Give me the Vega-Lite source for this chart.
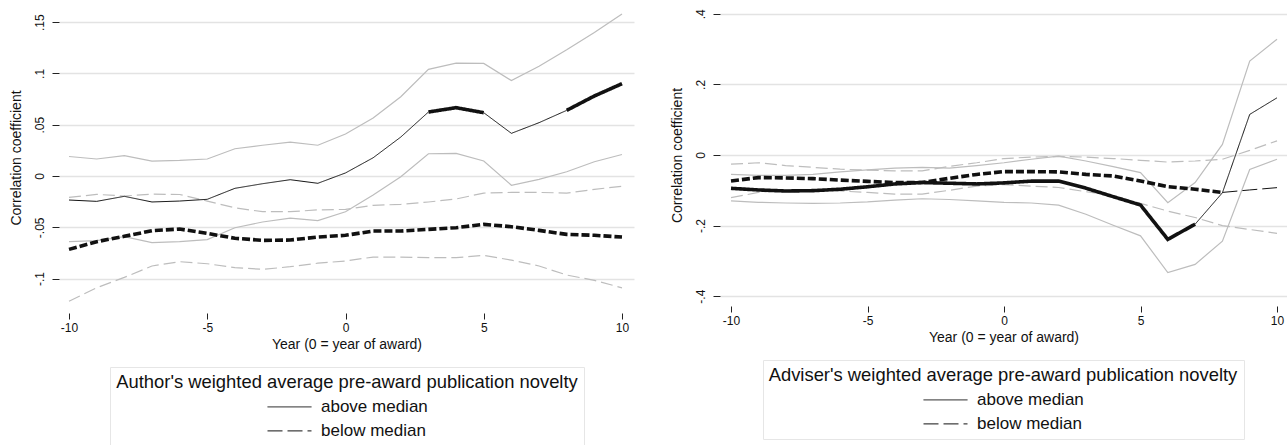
{
  "$schema": "https://vega.github.io/schema/vega-lite/v6.json",
  "padding": {"left": 9, "top": 8, "right": 0, "bottom": 0},
  "spacing": 86,
  "bounds": "flush",
  "config": {
    "font": "Liberation Sans",
    "view": {"stroke": null},
    "axis": {"domain": false, "tickColor": "#222", "tickWidth": 1, "labelFontSize": 12, "labelColor": "#111", "titleFontSize": 14, "titleFontWeight": "normal", "titleColor": "#111", "gridColor": "#e3e3e3", "gridWidth": 1.3},
    "axisX": {"tickSize": 6, "labelPadding": 3, "titlePadding": 4, "grid": false},
    "axisY": {"tickSize": 7, "labelAngle": -90, "labelPadding": 6, "titlePadding": 10, "grid": true},
    "legend": {
      "layout": {"bottom": {"anchor": "middle"}},
      "orient": "bottom", "direction": "vertical",
      "titleFontSize": 18.4, "titleFontWeight": "normal", "titleColor": "#111", "titleAnchor": "middle", "titlePadding": 7, "titleLimit": 0,
      "labelFontSize": 17, "labelColor": "#111", "labelOffset": 9, "labelLimit": 0,
      "symbolType": "stroke", "symbolSize": 1936, "symbolStrokeWidth": 1, "symbolStrokeColor": "#111", "clipHeight": 17,
      "rowPadding": 6, "padding": 6, "strokeColor": "#e6e6e6", "offset": 16
    }
  },
  "resolve": {"legend": {"strokeDash": "independent"}, "scale": {"strokeDash": "independent"}},
  "hconcat": [
    {
      "width": 575, "height": 297,
      "resolve": {"scale": {"strokeDash": "independent"}},
      "data": {"values": [
        {"s":"above median","k":"hi","g":"hi","x":-10,"y":0.019},{"s":"above median","k":"hi","g":"hi","x":-9,"y":0.0166},{"s":"above median","k":"hi","g":"hi","x":-8,"y":0.0198},{"s":"above median","k":"hi","g":"hi","x":-7,"y":0.0146},{"s":"above median","k":"hi","g":"hi","x":-6,"y":0.0153},{"s":"above median","k":"hi","g":"hi","x":-5,"y":0.0166},{"s":"above median","k":"hi","g":"hi","x":-4,"y":0.0266},{"s":"above median","k":"hi","g":"hi","x":-3,"y":0.030},{"s":"above median","k":"hi","g":"hi","x":-2,"y":0.033},{"s":"above median","k":"hi","g":"hi","x":-1,"y":0.030},{"s":"above median","k":"hi","g":"hi","x":0,"y":0.041},{"s":"above median","k":"hi","g":"hi","x":1,"y":0.0565},{"s":"above median","k":"hi","g":"hi","x":2,"y":0.0773},{"s":"above median","k":"hi","g":"hi","x":3,"y":0.104},{"s":"above median","k":"hi","g":"hi","x":4,"y":0.110},{"s":"above median","k":"hi","g":"hi","x":5,"y":0.1098},{"s":"above median","k":"hi","g":"hi","x":6,"y":0.093},{"s":"above median","k":"hi","g":"hi","x":7,"y":0.107},{"s":"above median","k":"hi","g":"hi","x":8,"y":0.123},{"s":"above median","k":"hi","g":"hi","x":9,"y":0.140},{"s":"above median","k":"hi","g":"hi","x":10,"y":0.158},
        {"s":"above median","k":"lo","g":"lo","x":-10,"y":-0.064},{"s":"above median","k":"lo","g":"lo","x":-9,"y":-0.063},{"s":"above median","k":"lo","g":"lo","x":-8,"y":-0.059},{"s":"above median","k":"lo","g":"lo","x":-7,"y":-0.065},{"s":"above median","k":"lo","g":"lo","x":-6,"y":-0.064},{"s":"above median","k":"lo","g":"lo","x":-5,"y":-0.062},{"s":"above median","k":"lo","g":"lo","x":-4,"y":-0.0504},{"s":"above median","k":"lo","g":"lo","x":-3,"y":-0.0448},{"s":"above median","k":"lo","g":"lo","x":-2,"y":-0.041},{"s":"above median","k":"lo","g":"lo","x":-1,"y":-0.0435},{"s":"above median","k":"lo","g":"lo","x":0,"y":-0.0348},{"s":"above median","k":"lo","g":"lo","x":1,"y":-0.0185},{"s":"above median","k":"lo","g":"lo","x":2,"y":-0.0007},{"s":"above median","k":"lo","g":"lo","x":3,"y":0.0217},{"s":"above median","k":"lo","g":"lo","x":4,"y":0.0221},{"s":"above median","k":"lo","g":"lo","x":5,"y":0.0146},{"s":"above median","k":"lo","g":"lo","x":6,"y":-0.009},{"s":"above median","k":"lo","g":"lo","x":7,"y":-0.0032},{"s":"above median","k":"lo","g":"lo","x":8,"y":0.0042},{"s":"above median","k":"lo","g":"lo","x":9,"y":0.0139},{"s":"above median","k":"lo","g":"lo","x":10,"y":0.021},
        {"s":"below median","k":"hi","g":"hi","x":-10,"y":-0.0208},{"s":"below median","k":"hi","g":"hi","x":-9,"y":-0.0179},{"s":"below median","k":"hi","g":"hi","x":-8,"y":-0.0195},{"s":"below median","k":"hi","g":"hi","x":-7,"y":-0.0176},{"s":"below median","k":"hi","g":"hi","x":-6,"y":-0.018},{"s":"below median","k":"hi","g":"hi","x":-5,"y":-0.0244},{"s":"below median","k":"hi","g":"hi","x":-4,"y":-0.031},{"s":"below median","k":"hi","g":"hi","x":-3,"y":-0.0348},{"s":"below median","k":"hi","g":"hi","x":-2,"y":-0.0348},{"s":"below median","k":"hi","g":"hi","x":-1,"y":-0.033},{"s":"below median","k":"hi","g":"hi","x":0,"y":-0.0325},{"s":"below median","k":"hi","g":"hi","x":1,"y":-0.0286},{"s":"below median","k":"hi","g":"hi","x":2,"y":-0.0276},{"s":"below median","k":"hi","g":"hi","x":3,"y":-0.0253},{"s":"below median","k":"hi","g":"hi","x":4,"y":-0.0224},{"s":"below median","k":"hi","g":"hi","x":5,"y":-0.0166},{"s":"below median","k":"hi","g":"hi","x":6,"y":-0.016},{"s":"below median","k":"hi","g":"hi","x":7,"y":-0.016},{"s":"below median","k":"hi","g":"hi","x":8,"y":-0.0166},{"s":"below median","k":"hi","g":"hi","x":9,"y":-0.013},{"s":"below median","k":"hi","g":"hi","x":10,"y":-0.010},
        {"s":"below median","k":"lo","g":"lo","x":-10,"y":-0.122},{"s":"below median","k":"lo","g":"lo","x":-9,"y":-0.109},{"s":"below median","k":"lo","g":"lo","x":-8,"y":-0.0988},{"s":"below median","k":"lo","g":"lo","x":-7,"y":-0.0877},{"s":"below median","k":"lo","g":"lo","x":-6,"y":-0.0835},{"s":"below median","k":"lo","g":"lo","x":-5,"y":-0.0855},{"s":"below median","k":"lo","g":"lo","x":-4,"y":-0.0893},{"s":"below median","k":"lo","g":"lo","x":-3,"y":-0.091},{"s":"below median","k":"lo","g":"lo","x":-2,"y":-0.0884},{"s":"below median","k":"lo","g":"lo","x":-1,"y":-0.085},{"s":"below median","k":"lo","g":"lo","x":0,"y":-0.0828},{"s":"below median","k":"lo","g":"lo","x":1,"y":-0.079},{"s":"below median","k":"lo","g":"lo","x":2,"y":-0.079},{"s":"below median","k":"lo","g":"lo","x":3,"y":-0.0796},{"s":"below median","k":"lo","g":"lo","x":4,"y":-0.0796},{"s":"below median","k":"lo","g":"lo","x":5,"y":-0.0773},{"s":"below median","k":"lo","g":"lo","x":6,"y":-0.082},{"s":"below median","k":"lo","g":"lo","x":7,"y":-0.0877},{"s":"below median","k":"lo","g":"lo","x":8,"y":-0.0965},{"s":"below median","k":"lo","g":"lo","x":9,"y":-0.1017},{"s":"below median","k":"lo","g":"lo","x":10,"y":-0.109},
        {"s":"above median","k":"est","g":"a1","w":"thin","x":-10,"y":-0.0234},{"s":"above median","k":"est","g":"a1","w":"thin","x":-9,"y":-0.0247},{"s":"above median","k":"est","g":"a1","w":"thin","x":-8,"y":-0.0198},{"s":"above median","k":"est","g":"a1","w":"thin","x":-7,"y":-0.0253},{"s":"above median","k":"est","g":"a1","w":"thin","x":-6,"y":-0.0244},{"s":"above median","k":"est","g":"a1","w":"thin","x":-5,"y":-0.0227},{"s":"above median","k":"est","g":"a1","w":"thin","x":-4,"y":-0.012},{"s":"above median","k":"est","g":"a1","w":"thin","x":-3,"y":-0.0075},{"s":"above median","k":"est","g":"a1","w":"thin","x":-2,"y":-0.0036},{"s":"above median","k":"est","g":"a1","w":"thin","x":-1,"y":-0.0071},{"s":"above median","k":"est","g":"a1","w":"thin","x":0,"y":0.003},{"s":"above median","k":"est","g":"a1","w":"thin","x":1,"y":0.0178},{"s":"above median","k":"est","g":"a1","w":"thin","x":2,"y":0.038},{"s":"above median","k":"est","g":"a1","w":"thin","x":3,"y":0.0624},
        {"s":"above median","k":"est","g":"a2","w":"thick","x":3,"y":0.0624},{"s":"above median","k":"est","g":"a2","w":"thick","x":4,"y":0.0666},{"s":"above median","k":"est","g":"a2","w":"thick","x":5,"y":0.0617},
        {"s":"above median","k":"est","g":"a3","w":"thin","x":5,"y":0.0617},{"s":"above median","k":"est","g":"a3","w":"thin","x":6,"y":0.0416},{"s":"above median","k":"est","g":"a3","w":"thin","x":7,"y":0.052},{"s":"above median","k":"est","g":"a3","w":"thin","x":8,"y":0.064},
        {"s":"above median","k":"est","g":"a4","w":"thick","x":8,"y":0.064},{"s":"above median","k":"est","g":"a4","w":"thick","x":9,"y":0.078},{"s":"above median","k":"est","g":"a4","w":"thick","x":10,"y":0.090},
        {"s":"below median","k":"est","g":"b1","w":"thick","x":-10,"y":-0.0715},{"s":"below median","k":"est","g":"b1","w":"thick","x":-9,"y":-0.064},{"s":"below median","k":"est","g":"b1","w":"thick","x":-8,"y":-0.0588},{"s":"below median","k":"est","g":"b1","w":"thick","x":-7,"y":-0.0533},{"s":"below median","k":"est","g":"b1","w":"thick","x":-6,"y":-0.0517},{"s":"below median","k":"est","g":"b1","w":"thick","x":-5,"y":-0.0559},{"s":"below median","k":"est","g":"b1","w":"thick","x":-4,"y":-0.0607},{"s":"below median","k":"est","g":"b1","w":"thick","x":-3,"y":-0.0627},{"s":"below median","k":"est","g":"b1","w":"thick","x":-2,"y":-0.0624},{"s":"below median","k":"est","g":"b1","w":"thick","x":-1,"y":-0.0595},{"s":"below median","k":"est","g":"b1","w":"thick","x":0,"y":-0.0578},{"s":"below median","k":"est","g":"b1","w":"thick","x":1,"y":-0.0536},{"s":"below median","k":"est","g":"b1","w":"thick","x":2,"y":-0.0536},{"s":"below median","k":"est","g":"b1","w":"thick","x":3,"y":-0.052},{"s":"below median","k":"est","g":"b1","w":"thick","x":4,"y":-0.0504},{"s":"below median","k":"est","g":"b1","w":"thick","x":5,"y":-0.0471},{"s":"below median","k":"est","g":"b1","w":"thick","x":6,"y":-0.0494},{"s":"below median","k":"est","g":"b1","w":"thick","x":7,"y":-0.053},{"s":"below median","k":"est","g":"b1","w":"thick","x":8,"y":-0.0569},{"s":"below median","k":"est","g":"b1","w":"thick","x":9,"y":-0.0578},{"s":"below median","k":"est","g":"b1","w":"thick","x":10,"y":-0.0595}
      ]},
      "encoding": {
        "x": {"field": "x", "type": "quantitative", "scale": {"domain": [-10.362, 10.434], "nice": false, "zero": false}, "axis": {"values": [-10, -5, 0, 5, 10], "title": "Year (0 = year of award)", "offset": 7, "labelExpr": "datum.value + ''"}},
        "y": {"field": "y", "type": "quantitative", "scale": {"domain": [-0.1267, 0.1628], "nice": false, "zero": false}, "axis": {"values": [-0.1, -0.05, 0, 0.05, 0.1, 0.15], "title": "Correlation coefficient", "labelExpr": "replace(datum.value + '', '0.', '.')"}}
      },
      "layer": [
        {"transform": [{"filter": "datum.k != 'est' && datum.s == 'above median'"}], "mark": {"type": "line", "color": "#bdbdbd", "strokeWidth": 1.2}, "encoding": {"detail": {"field": "g"}}},
        {"transform": [{"filter": "datum.k != 'est' && datum.s == 'below median'"}], "mark": {"type": "line", "color": "#bdbdbd", "strokeWidth": 1.2, "strokeDash": [12, 5]}, "encoding": {"detail": {"field": "g"}}},
        {"transform": [{"filter": "datum.k == 'est' && datum.w == 'thick'"}], "mark": {"type": "line", "color": "#111", "strokeWidth": 3.6},
         "encoding": {
           "detail": {"field": "g"},
           "strokeDash": {"field": "s", "type": "nominal", "scale": {"domain": ["above median", "below median"], "range": [[1, 0], [8, 3]]}, "legend": null}
         }},
        {"transform": [{"filter": "datum.k == 'est' && datum.w == 'thin'"}], "mark": {"type": "line", "color": "#111", "strokeWidth": 1},
         "encoding": {
           "detail": {"field": "g"},
           "strokeDash": {"field": "s", "type": "nominal", "scale": {"domain": ["above median", "below median"], "range": [[1, 0], [15, 5]]},
             "legend": {"title": "Author's weighted average pre-award publication novelty"}}
         }}
      ]
    },
    {
      "width": 567, "height": 292,
      "resolve": {"scale": {"strokeDash": "independent"}},
      "data": {"values": [
        {"s":"above median","k":"hi","g":"hi","x":-10,"y":-0.055},{"s":"above median","k":"hi","g":"hi","x":-9,"y":-0.058},{"s":"above median","k":"hi","g":"hi","x":-8,"y":-0.058},{"s":"above median","k":"hi","g":"hi","x":-7,"y":-0.055},{"s":"above median","k":"hi","g":"hi","x":-6,"y":-0.048},{"s":"above median","k":"hi","g":"hi","x":-5,"y":-0.042},{"s":"above median","k":"hi","g":"hi","x":-4,"y":-0.037},{"s":"above median","k":"hi","g":"hi","x":-3,"y":-0.035},{"s":"above median","k":"hi","g":"hi","x":-2,"y":-0.037},{"s":"above median","k":"hi","g":"hi","x":-1,"y":-0.030},{"s":"above median","k":"hi","g":"hi","x":0,"y":-0.022},{"s":"above median","k":"hi","g":"hi","x":1,"y":-0.012},{"s":"above median","k":"hi","g":"hi","x":2,"y":-0.003},{"s":"above median","k":"hi","g":"hi","x":3,"y":-0.017},{"s":"above median","k":"hi","g":"hi","x":4,"y":-0.033},{"s":"above median","k":"hi","g":"hi","x":5,"y":-0.050},{"s":"above median","k":"hi","g":"hi","x":6,"y":-0.135},{"s":"above median","k":"hi","g":"hi","x":7,"y":-0.078},{"s":"above median","k":"hi","g":"hi","x":8,"y":0.030},{"s":"above median","k":"hi","g":"hi","x":9,"y":0.266},{"s":"above median","k":"hi","g":"hi","x":10,"y":0.328},
        {"s":"above median","k":"lo","g":"lo","x":-10,"y":-0.130},{"s":"above median","k":"lo","g":"lo","x":-9,"y":-0.134},{"s":"above median","k":"lo","g":"lo","x":-8,"y":-0.136},{"s":"above median","k":"lo","g":"lo","x":-7,"y":-0.137},{"s":"above median","k":"lo","g":"lo","x":-6,"y":-0.136},{"s":"above median","k":"lo","g":"lo","x":-5,"y":-0.133},{"s":"above median","k":"lo","g":"lo","x":-4,"y":-0.128},{"s":"above median","k":"lo","g":"lo","x":-3,"y":-0.124},{"s":"above median","k":"lo","g":"lo","x":-2,"y":-0.126},{"s":"above median","k":"lo","g":"lo","x":-1,"y":-0.130},{"s":"above median","k":"lo","g":"lo","x":0,"y":-0.134},{"s":"above median","k":"lo","g":"lo","x":1,"y":-0.136},{"s":"above median","k":"lo","g":"lo","x":2,"y":-0.142},{"s":"above median","k":"lo","g":"lo","x":3,"y":-0.168},{"s":"above median","k":"lo","g":"lo","x":4,"y":-0.199},{"s":"above median","k":"lo","g":"lo","x":5,"y":-0.229},{"s":"above median","k":"lo","g":"lo","x":6,"y":-0.333},{"s":"above median","k":"lo","g":"lo","x":7,"y":-0.310},{"s":"above median","k":"lo","g":"lo","x":8,"y":-0.244},{"s":"above median","k":"lo","g":"lo","x":9,"y":-0.041},{"s":"above median","k":"lo","g":"lo","x":10,"y":-0.012},
        {"s":"below median","k":"hi","g":"hi","x":-10,"y":-0.026},{"s":"below median","k":"hi","g":"hi","x":-9,"y":-0.022},{"s":"below median","k":"hi","g":"hi","x":-8,"y":-0.030},{"s":"below median","k":"hi","g":"hi","x":-7,"y":-0.035},{"s":"below median","k":"hi","g":"hi","x":-6,"y":-0.040},{"s":"below median","k":"hi","g":"hi","x":-5,"y":-0.043},{"s":"below median","k":"hi","g":"hi","x":-4,"y":-0.045},{"s":"below median","k":"hi","g":"hi","x":-3,"y":-0.045},{"s":"below median","k":"hi","g":"hi","x":-2,"y":-0.032},{"s":"below median","k":"hi","g":"hi","x":-1,"y":-0.022},{"s":"below median","k":"hi","g":"hi","x":0,"y":-0.010},{"s":"below median","k":"hi","g":"hi","x":1,"y":-0.006},{"s":"below median","k":"hi","g":"hi","x":2,"y":-0.004},{"s":"below median","k":"hi","g":"hi","x":3,"y":-0.006},{"s":"below median","k":"hi","g":"hi","x":4,"y":-0.010},{"s":"below median","k":"hi","g":"hi","x":5,"y":-0.015},{"s":"below median","k":"hi","g":"hi","x":6,"y":-0.020},{"s":"below median","k":"hi","g":"hi","x":7,"y":-0.017},{"s":"below median","k":"hi","g":"hi","x":8,"y":-0.012},{"s":"below median","k":"hi","g":"hi","x":9,"y":0.013},{"s":"below median","k":"hi","g":"hi","x":10,"y":0.040},
        {"s":"below median","k":"lo","g":"lo","x":-10,"y":-0.121},{"s":"below median","k":"lo","g":"lo","x":-9,"y":-0.106},{"s":"below median","k":"lo","g":"lo","x":-8,"y":-0.100},{"s":"below median","k":"lo","g":"lo","x":-7,"y":-0.099},{"s":"below median","k":"lo","g":"lo","x":-6,"y":-0.102},{"s":"below median","k":"lo","g":"lo","x":-5,"y":-0.106},{"s":"below median","k":"lo","g":"lo","x":-4,"y":-0.111},{"s":"below median","k":"lo","g":"lo","x":-3,"y":-0.111},{"s":"below median","k":"lo","g":"lo","x":-2,"y":-0.100},{"s":"below median","k":"lo","g":"lo","x":-1,"y":-0.088},{"s":"below median","k":"lo","g":"lo","x":0,"y":-0.084},{"s":"below median","k":"lo","g":"lo","x":1,"y":-0.088},{"s":"below median","k":"lo","g":"lo","x":2,"y":-0.092},{"s":"below median","k":"lo","g":"lo","x":3,"y":-0.104},{"s":"below median","k":"lo","g":"lo","x":4,"y":-0.115},{"s":"below median","k":"lo","g":"lo","x":5,"y":-0.137},{"s":"below median","k":"lo","g":"lo","x":6,"y":-0.159},{"s":"below median","k":"lo","g":"lo","x":7,"y":-0.177},{"s":"below median","k":"lo","g":"lo","x":8,"y":-0.200},{"s":"below median","k":"lo","g":"lo","x":9,"y":-0.211},{"s":"below median","k":"lo","g":"lo","x":10,"y":-0.222},
        {"s":"above median","k":"est","g":"a1","w":"thick","x":-10,"y":-0.0944},{"s":"above median","k":"est","g":"a1","w":"thick","x":-9,"y":-0.099},{"s":"above median","k":"est","g":"a1","w":"thick","x":-8,"y":-0.102},{"s":"above median","k":"est","g":"a1","w":"thick","x":-7,"y":-0.101},{"s":"above median","k":"est","g":"a1","w":"thick","x":-6,"y":-0.097},{"s":"above median","k":"est","g":"a1","w":"thick","x":-5,"y":-0.090},{"s":"above median","k":"est","g":"a1","w":"thick","x":-4,"y":-0.082},{"s":"above median","k":"est","g":"a1","w":"thick","x":-3,"y":-0.078},{"s":"above median","k":"est","g":"a1","w":"thick","x":-2,"y":-0.080},{"s":"above median","k":"est","g":"a1","w":"thick","x":-1,"y":-0.082},{"s":"above median","k":"est","g":"a1","w":"thick","x":0,"y":-0.079},{"s":"above median","k":"est","g":"a1","w":"thick","x":1,"y":-0.074},{"s":"above median","k":"est","g":"a1","w":"thick","x":2,"y":-0.074},{"s":"above median","k":"est","g":"a1","w":"thick","x":3,"y":-0.094},{"s":"above median","k":"est","g":"a1","w":"thick","x":4,"y":-0.118},{"s":"above median","k":"est","g":"a1","w":"thick","x":5,"y":-0.1416},{"s":"above median","k":"est","g":"a1","w":"thick","x":6,"y":-0.239},{"s":"above median","k":"est","g":"a1","w":"thick","x":7,"y":-0.196},
        {"s":"above median","k":"est","g":"a2","w":"thin","x":7,"y":-0.196},{"s":"above median","k":"est","g":"a2","w":"thin","x":8,"y":-0.107},{"s":"above median","k":"est","g":"a2","w":"thin","x":9,"y":0.115},{"s":"above median","k":"est","g":"a2","w":"thin","x":10,"y":0.162},
        {"s":"below median","k":"est","g":"b1","w":"thick","x":-10,"y":-0.0736},{"s":"below median","k":"est","g":"b1","w":"thick","x":-9,"y":-0.064},{"s":"below median","k":"est","g":"b1","w":"thick","x":-8,"y":-0.065},{"s":"below median","k":"est","g":"b1","w":"thick","x":-7,"y":-0.067},{"s":"below median","k":"est","g":"b1","w":"thick","x":-6,"y":-0.071},{"s":"below median","k":"est","g":"b1","w":"thick","x":-5,"y":-0.0746},{"s":"below median","k":"est","g":"b1","w":"thick","x":-4,"y":-0.078},{"s":"below median","k":"est","g":"b1","w":"thick","x":-3,"y":-0.078},{"s":"below median","k":"est","g":"b1","w":"thick","x":-2,"y":-0.066},{"s":"below median","k":"est","g":"b1","w":"thick","x":-1,"y":-0.055},{"s":"below median","k":"est","g":"b1","w":"thick","x":0,"y":-0.047},{"s":"below median","k":"est","g":"b1","w":"thick","x":1,"y":-0.047},{"s":"below median","k":"est","g":"b1","w":"thick","x":2,"y":-0.048},{"s":"below median","k":"est","g":"b1","w":"thick","x":3,"y":-0.0548},{"s":"below median","k":"est","g":"b1","w":"thick","x":4,"y":-0.0595},{"s":"below median","k":"est","g":"b1","w":"thick","x":5,"y":-0.0736},{"s":"below median","k":"est","g":"b1","w":"thick","x":6,"y":-0.0897},{"s":"below median","k":"est","g":"b1","w":"thick","x":7,"y":-0.097},{"s":"below median","k":"est","g":"b1","w":"thick","x":8,"y":-0.106},
        {"s":"below median","k":"est","g":"b2","w":"thin","x":8,"y":-0.106},{"s":"below median","k":"est","g":"b2","w":"thin","x":9,"y":-0.099},{"s":"below median","k":"est","g":"b2","w":"thin","x":10,"y":-0.0925}
      ]},
      "encoding": {
        "x": {"field": "x", "type": "quantitative", "scale": {"domain": [-10.403, 10.366], "nice": false, "zero": false}, "axis": {"values": [-10, -5, 0, 5, 10], "title": "Year (0 = year of award)", "offset": 5, "labelExpr": "datum.value + ''"}},
        "y": {"field": "y", "type": "quantitative", "scale": {"domain": [-0.4136, 0.4136], "nice": false, "zero": false}, "axis": {"values": [-0.4, -0.2, 0, 0.2, 0.4], "title": "Correlation coefficient", "labelExpr": "replace(datum.value + '', '0.', '.')"}}
      },
      "layer": [
        {"transform": [{"filter": "datum.k != 'est' && datum.s == 'above median'"}], "mark": {"type": "line", "color": "#bdbdbd", "strokeWidth": 1.2}, "encoding": {"detail": {"field": "g"}}},
        {"transform": [{"filter": "datum.k != 'est' && datum.s == 'below median'"}], "mark": {"type": "line", "color": "#bdbdbd", "strokeWidth": 1.2, "strokeDash": [12, 5]}, "encoding": {"detail": {"field": "g"}}},
        {"transform": [{"filter": "datum.k == 'est' && datum.w == 'thick'"}], "mark": {"type": "line", "color": "#111", "strokeWidth": 3.6},
         "encoding": {
           "detail": {"field": "g"},
           "strokeDash": {"field": "s", "type": "nominal", "scale": {"domain": ["above median", "below median"], "range": [[1, 0], [8, 3]]}, "legend": null}
         }},
        {"transform": [{"filter": "datum.k == 'est' && datum.w == 'thin'"}], "mark": {"type": "line", "color": "#111", "strokeWidth": 1},
         "encoding": {
           "detail": {"field": "g"},
           "strokeDash": {"field": "s", "type": "nominal", "scale": {"domain": ["above median", "below median"], "range": [[1, 0], [15, 5]]},
             "legend": {"title": "Adviser's weighted average pre-award publication novelty"}}
         }}
      ]
    }
  ]
}
